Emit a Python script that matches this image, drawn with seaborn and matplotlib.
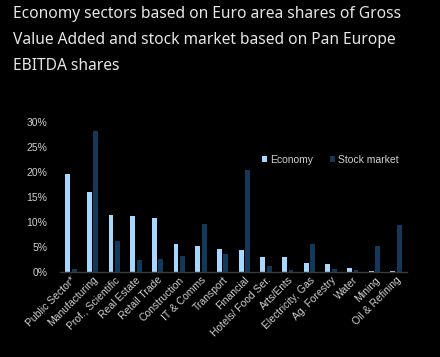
import numpy as np
import pandas as pd
import seaborn as sns
import matplotlib.pyplot as plt
from matplotlib.ticker import FuncFormatter

# Data (shares, in %)
sectors = ["Public Sector*", "Manufacturing", "Prof., Scientific", "Real Estate",
           "Retail Trade", "Construction", "IT & Comms", "Transport", "Financial",
           "Hotels/ Food Ser.", "Arts/Ents", "Electricity, Gas", "Ag. Forestry",
           "Water", "Mining", "Oil & Refining"]
economy = [19.6, 16.0, 11.4, 11.3, 10.8, 5.6, 5.3, 4.6, 4.5, 3.0, 3.0, 1.8, 1.6, 0.8, 0.2, 0.2]
stock_market = [0.7, 28.2, 6.2, 2.4, 2.6, 3.3, 9.7, 3.7, 20.5, 1.2, 0.5, 5.6, 0.7, 0.4, 5.3, 9.4]
series = ["Economy", "Stock market"]
colors = ["#a6d8ff", "#12395a"]

df = pd.DataFrame({
    "sector": sectors * 2,
    "share": economy + stock_market,
    "series": [series[0]] * len(sectors) + [series[1]] * len(sectors),
})

BG = "#000000"
TXT = "#d0d0d0"

sns.set_theme(style="white")
plt.rcParams["font.family"] = ["Liberation Sans", "DejaVu Sans"]

fig = plt.figure(figsize=(4.4, 3.57), dpi=100, facecolor=BG)
ax = fig.add_axes([60 / 440, 1 - 272 / 357, 347 / 440, 150 / 357])
ax.set_facecolor(BG)

sns.barplot(data=df, x="sector", y="share", hue="series", palette=colors,
            width=0.6, gap=0.25, ax=ax, saturation=1, legend=True, linewidth=0)

ax.set_ylim(0, 30)
ax.set_xlim(-0.5, len(sectors) - 0.5)
ax.set_yticks(np.arange(0, 31, 5))
ax.yaxis.set_major_formatter(FuncFormatter(lambda v, p: f"{v:.0f}%"))
ax.set_xlabel("")
ax.set_ylabel("")
for s in ["top", "right", "left"]:
    ax.spines[s].set_visible(False)
ax.spines["bottom"].set_color("#3a3a3a")
ax.spines["bottom"].set_linewidth(1)
ax.tick_params(axis="both", length=0, colors=TXT, labelsize=7.5)
ax.tick_params(axis="y", pad=9)
ax.tick_params(axis="x", pad=2)
plt.setp(ax.get_xticklabels(), rotation=45, ha="right", rotation_mode="anchor")

leg = ax.legend(loc="center", bbox_to_anchor=(330 / 440, 1 - 160 / 357),
                bbox_transform=fig.transFigure, ncol=2, frameon=False,
                fontsize=7.5, handlelength=0.55, handleheight=0.55,
                handletextpad=0.25, columnspacing=1.6)
for t in leg.get_texts():
    t.set_color(TXT)

title_lines = ["Economy sectors based on Euro area shares of Gross",
               "Value Added and stock market based on Pan Europe",
               "EBITDA shares"]
for i, line in enumerate(title_lines):
    fig.text(13 / 440, 1 - (14 + 26 * i) / 357, line, color="#e6e6e6",
             fontsize=11.2, family=["Noto Sans", "DejaVu Sans"], va="center", ha="left")

fig.savefig("out.png", dpi=100, facecolor=BG)
